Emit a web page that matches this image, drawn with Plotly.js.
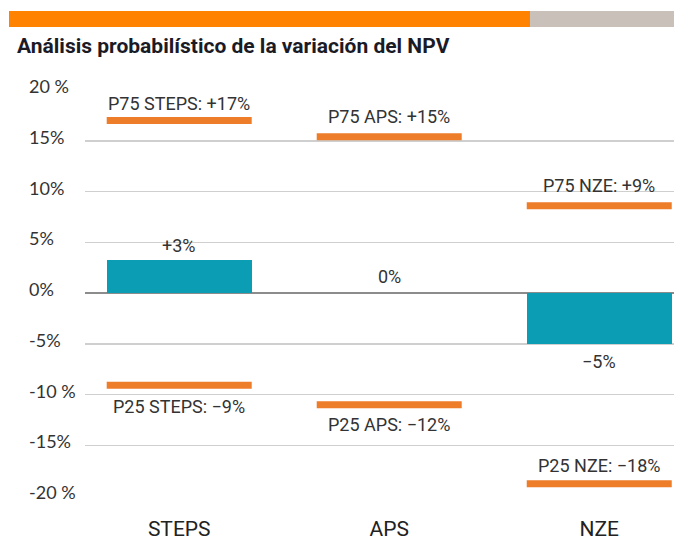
<!DOCTYPE html>
<html>
<head>
<meta charset="utf-8">
<script src="https://cdn.plot.ly/plotly-3.0.1.min.js"></script>
<style>
html,body{margin:0;padding:0;background:#fff;}
#chart{width:674px;height:542px;}
</style>
</head>
<body>
<div id="chart"></div>
<script>
// ---- data ----
var categories = ["STEPS", "APS", "NZE"];
var medianValues = [3.3, 0, -5];
var medianLabels = ["+3%", "0%", "\u22125%"];
var p75Values = [17, 15.4, 8.6];
var p75Labels = ["P75 STEPS: +17%", "P75 APS: +15%", "P75 NZE: +9%"];
var p25Values = [-9.1, -11, -18.8];
var p25Labels = ["P25 STEPS: \u22129%", "P25 APS: \u221212%", "P25 NZE: \u221218%"];
var yTickVals = [20, 15, 10, 5, 0, -5, -10, -15, -20];
var yTickText = ["20 %", "15%", "10%", "5%", "0%", "-5%", "-10 %", "-15%", "-20 %"];

var TEAL = "#0a9db3";
var ORANGE = "#ee7d2a";
var TXT = "#333333";
var FONT = "Roboto, 'Noto Sans', sans-serif";

// line-ew symbol half-length is 1.4 * size/2 -> size for a 145px wide segment
var segSize = 145 / 1.4;

var traces = [
  {
    type: "bar", x: categories, y: medianValues, width: 0.69,
    marker: {color: TEAL}, hoverinfo: "none", showlegend: false
  },
  {
    type: "scatter", mode: "markers", x: categories, y: p75Values,
    marker: {symbol: "line-ew", size: segSize, color: ORANGE, line: {color: ORANGE, width: 7}},
    hoverinfo: "none", showlegend: false
  },
  {
    type: "scatter", mode: "markers", x: categories, y: p25Values,
    marker: {symbol: "line-ew", size: segSize, color: ORANGE, line: {color: ORANGE, width: 7}},
    hoverinfo: "none", showlegend: false
  }
];

var annotations = [];
var medShift = [14, 17, -18];
categories.forEach(function (c, i) {
  annotations.push({x: c, y: medianValues[i], xref: "x", yref: "y", text: medianLabels[i],
    showarrow: false, yanchor: "middle", yshift: medShift[i],
    font: {family: FONT, size: 18, color: TXT}});
});
var p75Shift = [17, 20, 20];
categories.forEach(function (c, i) {
  annotations.push({x: c, y: p75Values[i], xref: "x", yref: "y", text: p75Labels[i],
    showarrow: false, yanchor: "middle", yshift: p75Shift[i],
    font: {family: FONT, size: 18, color: TXT}});
});
var p25Shift = [-21, -20, 18];
categories.forEach(function (c, i) {
  annotations.push({x: c, y: p25Values[i], xref: "x", yref: "y", text: p25Labels[i],
    showarrow: false, yanchor: "middle", yshift: p25Shift[i],
    font: {family: FONT, size: 18, color: TXT}});
});
yTickVals.forEach(function (v, i) {
  annotations.push({x: -0.0985, y: v, xref: "paper", yref: "y", text: yTickText[i],
    showarrow: false, xanchor: "left", yanchor: "middle", yshift: 4,
    font: {family: "Lato, 'Noto Sans', sans-serif", size: 18, color: TXT}});
});

var layout = {
  width: 674, height: 542,
  margin: {l: 85, r: 0, t: 90, b: 46, pad: 0},
  paper_bgcolor: "#ffffff", plot_bgcolor: "#ffffff",
  title: {
    text: "<b>Análisis probabilístico de la variación del NPV</b>",
    x: 17 / 674, xref: "container", xanchor: "left",
    y: 1 - 46 / 542, yref: "container", yanchor: "middle",
    font: {family: FONT, size: 21, color: "#1b1b26"}
  },
  xaxis: {
    type: "category", range: [-0.4486, 2.356],
    showgrid: false, zeroline: false, showline: false,
    ticks: "outside", ticklen: 14, tickcolor: "rgba(0,0,0,0)",
    tickfont: {family: FONT, size: 21, color: "#222"}
  },
  yaxis: {
    range: [-20, 20], tickvals: yTickVals, showticklabels: false,
    showgrid: true, gridcolor: "#cfcfcf", gridwidth: 1.5,
    zeroline: true, zerolinecolor: "#8c8c8c", zerolinewidth: 1.5,
    showline: false, fixedrange: true
  },
  bargap: 0,
  annotations: annotations,
  shapes: [
    {type: "rect", xref: "paper", yref: "paper", x0: (9 - 85) / 589, x1: (530 - 85) / 589,
      y0: (496 - 27) / 406, y1: (496 - 11) / 406, fillcolor: "#ff8300", line: {width: 0}, layer: "above"},
    {type: "rect", xref: "paper", yref: "paper", x0: (530 - 85) / 589, x1: 1,
      y0: (496 - 27) / 406, y1: (496 - 11) / 406, fillcolor: "#c8c0b9", line: {width: 0}, layer: "above"}
  ],
  showlegend: false
};

Plotly.newPlot("chart", traces, layout, {displayModeBar: false, staticPlot: true});
</script>
</body>
</html>
